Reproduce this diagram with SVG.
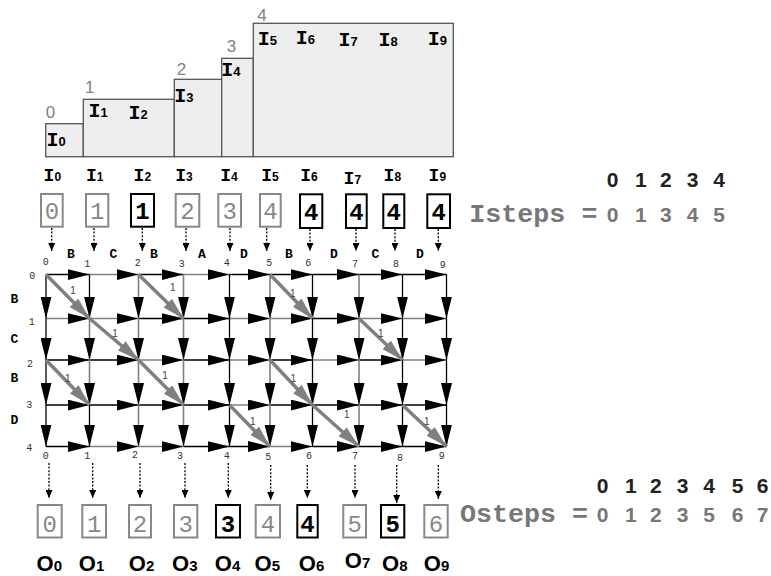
<svg xmlns="http://www.w3.org/2000/svg" width="771" height="576" viewBox="0 0 771 576">
<style>
.bg{fill:#fff}
.step{fill:#eeeeee;stroke:#555;stroke-width:1.3}
.stepn{font-family:"Liberation Sans",Arial,sans-serif;font-size:17px;fill:#808080}
.il{font-family:"Liberation Mono","Courier New",monospace;font-weight:bold;fill:#000}
.sub{font-family:"Liberation Sans",Arial,sans-serif;font-weight:bold}
.ol{font-family:"Liberation Sans",Arial,sans-serif;font-weight:bold;font-size:22px;fill:#000}
.bxg{fill:#fff;stroke:#888;stroke-width:2}
.bxk{fill:#fff;stroke:#000;stroke-width:2}
.dg{font-family:"Liberation Mono","Courier New",monospace;font-size:24px;fill:#888;text-anchor:middle}
.dk{font-family:"Liberation Mono","Courier New",monospace;font-weight:bold;font-size:24px;fill:#000;text-anchor:middle}
.dot{stroke:#000;stroke-width:1.3;stroke-dasharray:2,1.6;fill:none;marker-end:url(#sa)}
.k{stroke:#000;stroke-width:1.3;marker-end:url(#ah)}
.g{stroke:#808080;stroke-width:1.6;marker-end:url(#ah)}
.dia{stroke:#808080;stroke-width:3.5;marker-end:url(#ag)}
.num{font-family:"Liberation Mono","Courier New",monospace;font-size:10px;fill:#333;text-anchor:middle}
.one{font-family:"Liberation Sans",Arial,sans-serif;font-size:10px;fill:#444;text-anchor:middle}
.let{font-family:"Liberation Mono","Courier New",monospace;font-weight:bold;font-size:13px;fill:#000;text-anchor:middle}
.hd{font-family:"Liberation Sans",Arial,sans-serif;font-weight:bold;font-size:21px;fill:#222}
.hv{font-family:"Liberation Sans",Arial,sans-serif;font-weight:bold;font-size:21px;fill:#777}
.mono{font-family:"Liberation Mono","Courier New",monospace;font-weight:bold;font-size:26.7px;fill:#777}
</style>
<defs>
<marker id="ah" markerUnits="userSpaceOnUse" markerWidth="22" markerHeight="11" refX="22" refY="5.5" orient="auto"><path d="M0,0 L22,5.5 L0,11 Z" fill="#000"/></marker>
<marker id="ag" markerUnits="userSpaceOnUse" markerWidth="22" markerHeight="12" refX="22" refY="6" orient="auto"><path d="M0,0 L22,6 L0,12 Z" fill="#808080"/></marker>
<marker id="sa" markerUnits="userSpaceOnUse" markerWidth="8" markerHeight="7" refX="8" refY="3.5" orient="auto"><path d="M0,0 L8,3.5 L0,7 Z" fill="#000"/></marker>
</defs>
<rect class="bg" x="0" y="0" width="771" height="576"/>

<g id="staircase">
<rect class="step" x="45.7" y="123.7" width="37.6" height="33"/>
<rect class="step" x="83.3" y="99.3" width="91" height="57.4"/>
<rect class="step" x="174.3" y="79.3" width="47.4" height="77.4"/>
<rect class="step" x="221.7" y="58.3" width="31.6" height="98.4"/>
<rect class="step" x="253.3" y="23.3" width="200" height="133.4"/>
<text class="stepn" x="45.7" y="118.3">0</text>
<text class="stepn" x="85" y="93.3">1</text>
<text class="stepn" x="176.7" y="75">2</text>
<text class="stepn" x="226.7" y="51.7">3</text>
<text class="stepn" x="257.3" y="20.7">4</text>
<text class="il" font-size="20" x="46.5" y="146">I<tspan class="sub" font-size="13">0</tspan></text>
<text class="il" font-size="20" x="88.5" y="117.3">I<tspan class="sub" font-size="13">1</tspan></text>
<text class="il" font-size="20" x="128.5" y="119">I<tspan class="sub" font-size="13">2</tspan></text>
<text class="il" font-size="20" x="174.2" y="101.7">I<tspan class="sub" font-size="13">3</tspan></text>
<text class="il" font-size="20" x="221.2" y="76">I<tspan class="sub" font-size="13">4</tspan></text>
<text class="il" font-size="20" x="257.8" y="45">I<tspan class="sub" font-size="13">5</tspan></text>
<text class="il" font-size="20" x="295.8" y="44">I<tspan class="sub" font-size="13">6</tspan></text>
<text class="il" font-size="20" x="338.5" y="46">I<tspan class="sub" font-size="13">7</tspan></text>
<text class="il" font-size="20" x="378.5" y="46">I<tspan class="sub" font-size="13">8</tspan></text>
<text class="il" font-size="20" x="427.8" y="45">I<tspan class="sub" font-size="13">9</tspan></text>
</g>

<g id="inputs">
<text class="il" font-size="18" x="43.6" y="181">I<tspan class="sub" font-size="12">0</tspan></text>
<text class="il" font-size="18" x="85.9" y="181">I<tspan class="sub" font-size="12">1</tspan></text>
<text class="il" font-size="18" x="133.6" y="181">I<tspan class="sub" font-size="12">2</tspan></text>
<text class="il" font-size="18" x="175.3" y="181">I<tspan class="sub" font-size="12">3</tspan></text>
<text class="il" font-size="18" x="220.3" y="181">I<tspan class="sub" font-size="12">4</tspan></text>
<text class="il" font-size="18" x="261.3" y="181">I<tspan class="sub" font-size="12">5</tspan></text>
<text class="il" font-size="18" x="300.3" y="181">I<tspan class="sub" font-size="12">6</tspan></text>
<text class="il" font-size="18" x="343.6" y="183.5">I<tspan class="sub" font-size="12">7</tspan></text>
<text class="il" font-size="18" x="383.6" y="181">I<tspan class="sub" font-size="12">8</tspan></text>
<text class="il" font-size="18" x="428.6" y="181">I<tspan class="sub" font-size="12">9</tspan></text>
</g>

<g id="ibox0"><rect class="bxg" x="41" y="194" width="21.7" height="32.7"/><text class="dg" x="51.9" y="219.3">0</text></g>
<g id="ibox1"><rect class="bxg" x="86" y="194" width="22.3" height="32.7"/><text class="dg" x="97.2" y="219.3">1</text></g>
<g id="ibox2"><rect class="bxk" x="131" y="194" width="23" height="32.7"/><text class="dk" x="142.5" y="219.3">1</text></g>
<g id="ibox3"><rect class="bxg" x="175.7" y="194" width="23.6" height="32.7"/><text class="dg" x="187.5" y="219.3">2</text></g>
<g id="ibox4"><rect class="bxg" x="218.3" y="194" width="22.7" height="32.7"/><text class="dg" x="229.7" y="219.3">3</text></g>
<g id="ibox5"><rect class="bxg" x="260" y="194" width="20.7" height="32.7"/><text class="dg" x="270.4" y="219.3">4</text></g>
<g id="ibox6"><rect class="bxk" x="300" y="194.3" width="22.3" height="33.7"/><text class="dk" x="311.2" y="220">4</text></g>
<g id="ibox7"><rect class="bxk" x="346" y="194.3" width="20.7" height="33.7"/><text class="dk" x="356.4" y="220">4</text></g>
<g id="ibox8"><rect class="bxk" x="383.3" y="194.3" width="21" height="33.7"/><text class="dk" x="393.8" y="220">4</text></g>
<g id="ibox9"><rect class="bxk" x="427.3" y="194.3" width="22.7" height="33.7"/><text class="dk" x="438.7" y="220">4</text></g>

<g id="right-text">
<text class="hd" x="606.7 635 660 686.7 713.3" y="186.7">01234</text>
<text class="mono" x="469.3" y="221.7">Isteps =</text>
<text class="hv" x="606.7 635 660 686.7 713.3" y="221.7">01345</text>
<text class="hd" x="596.7 625 650 676.7 703.3 731.7 756.7" y="493.3">0123456</text>
<text class="mono" x="460" y="521.7">Osteps =</text>
<text class="hv" x="596.7 625 650 676.7 703.3 731.7 756.7" y="521.7">0123567</text>
</g>

<g id="grid-labels">
<text class="num" x="45.7" y="265">0</text>
<text class="num" x="87.3" y="267">1</text>
<text class="num" x="137.7" y="266">2</text>
<text class="num" x="181.7" y="267.3">3</text>
<text class="num" x="226.7" y="266">4</text>
<text class="num" x="269.3" y="266">5</text>
<text class="num" x="308.3" y="266">6</text>
<text class="num" x="355" y="267.3">7</text>
<text class="num" x="396" y="266.7">8</text>
<text class="num" x="442.7" y="268.3">9</text>
<text class="num" x="45.7" y="458.5">0</text>
<text class="num" x="87.3" y="459">1</text>
<text class="num" x="135" y="458">2</text>
<text class="num" x="180" y="459">3</text>
<text class="num" x="226.7" y="458.5">4</text>
<text class="num" x="268.3" y="460">5</text>
<text class="num" x="309" y="458.5">6</text>
<text class="num" x="355" y="458.5">7</text>
<text class="num" x="400" y="460.5">8</text>
<text class="num" x="441.7" y="459">9</text>
<text class="num" x="32.3" y="279">0</text>
<text class="num" x="31.7" y="325">1</text>
<text class="num" x="30" y="366.7">2</text>
<text class="num" x="29.3" y="408.3">3</text>
<text class="num" x="29.3" y="450.5">4</text>
<text class="let" x="14.5" y="303">B</text>
<text class="let" x="14.5" y="343.3">C</text>
<text class="let" x="14.5" y="382.3">B</text>
<text class="let" x="14.5" y="424">D</text>
<text class="let" x="70.8" y="258">B</text>
<text class="let" x="113.5" y="258">C</text>
<text class="let" x="154" y="258">B</text>
<text class="let" x="202" y="258">A</text>
<text class="let" x="244" y="258">D</text>
<text class="let" x="289" y="258">B</text>
<text class="let" x="334" y="258">D</text>
<text class="let" x="375.5" y="258">C</text>
<text class="let" x="420" y="258">D</text>
</g>

<g id="connectors">
<line class="dot" x1="51.7" y1="228" x2="51.7" y2="251"/>
<line class="dot" x1="94" y1="228" x2="94" y2="251"/>
<line class="dot" x1="142.3" y1="228" x2="142.3" y2="251"/>
<line class="dot" x1="186" y1="228" x2="186" y2="251"/>
<line class="dot" x1="230" y1="228" x2="230" y2="251"/>
<line class="dot" x1="266.7" y1="228" x2="266.7" y2="251"/>
<line class="dot" x1="310" y1="229" x2="310" y2="251"/>
<line class="dot" x1="356" y1="229" x2="356" y2="251"/>
<line class="dot" x1="395" y1="229" x2="395" y2="251"/>
<line class="dot" x1="438.3" y1="229" x2="438.3" y2="251"/>

<line class="dot" x1="49" y1="463" x2="49" y2="498"/>
<line class="dot" x1="92.7" y1="463" x2="92.7" y2="498"/>
<line class="dot" x1="140" y1="463" x2="140" y2="498"/>
<line class="dot" x1="185" y1="463" x2="185" y2="498"/>
<line class="dot" x1="228.3" y1="463" x2="228.3" y2="498"/>
<line class="dot" x1="270.7" y1="465" x2="270.7" y2="500"/>
<line class="dot" x1="307.3" y1="465" x2="307.3" y2="498"/>
<line class="dot" x1="355" y1="465" x2="355" y2="498"/>
<line class="dot" x1="396.7" y1="465" x2="396.7" y2="503"/>
<line class="dot" x1="438.3" y1="465" x2="438.3" y2="499"/>

<!-- row 0 -->
<line class="k" x1="46" y1="274.5" x2="89.5" y2="274.5"/>
<line class="g" x1="89.5" y1="274.5" x2="138.5" y2="274.5"/>
<line class="k" x1="138.5" y1="274.5" x2="183.5" y2="274.5"/>
<line class="g" x1="183.5" y1="274.5" x2="229.5" y2="274.5"/>
<line class="k" x1="229.5" y1="274.5" x2="270" y2="274.5"/>
<line class="k" x1="270" y1="274.5" x2="312.5" y2="274.5"/>
<line class="k" x1="312.5" y1="274.5" x2="359" y2="274.5"/>
<line class="k" x1="359" y1="274.5" x2="402.5" y2="274.5"/>
<line class="k" x1="402.5" y1="274.5" x2="446.5" y2="274.5"/>
<!-- row 1 -->
<line class="g" x1="46" y1="318.5" x2="89.5" y2="318.5"/>
<line class="g" x1="89.5" y1="318.5" x2="138.5" y2="318.5"/>
<line class="k" x1="138.5" y1="318.5" x2="183.5" y2="318.5"/>
<line class="k" x1="183.5" y1="318.5" x2="229.5" y2="318.5"/>
<line class="g" x1="229.5" y1="318.5" x2="270" y2="318.5"/>
<line class="g" x1="270" y1="318.5" x2="312.5" y2="318.5"/>
<line class="k" x1="312.5" y1="318.5" x2="359" y2="318.5"/>
<line class="g" x1="359" y1="318.5" x2="402.5" y2="318.5"/>
<line class="g" x1="402.5" y1="318.5" x2="446.5" y2="318.5"/>
<!-- row 2 -->
<line class="k" x1="46" y1="360" x2="89.5" y2="360"/>
<line class="k" x1="89.5" y1="360" x2="138.5" y2="360"/>
<line class="g" x1="138.5" y1="360" x2="183.5" y2="360"/>
<line class="k" x1="183.5" y1="360" x2="229.5" y2="360"/>
<line class="g" x1="229.5" y1="360" x2="270" y2="360"/>
<line class="k" x1="270" y1="360" x2="312.5" y2="360"/>
<line class="g" x1="312.5" y1="360" x2="359" y2="360"/>
<line class="k" x1="359" y1="360" x2="402.5" y2="360"/>
<line class="g" x1="402.5" y1="360" x2="446.5" y2="360"/>
<!-- row 3 -->
<line class="k" x1="46" y1="405" x2="89.5" y2="405"/>
<line class="k" x1="89.5" y1="405" x2="138.5" y2="405"/>
<line class="k" x1="138.5" y1="405" x2="183.5" y2="405"/>
<line class="k" x1="183.5" y1="405" x2="229.5" y2="405"/>
<line class="g" x1="229.5" y1="405" x2="270" y2="405"/>
<line class="k" x1="270" y1="405" x2="312.5" y2="405"/>
<line class="k" x1="312.5" y1="405" x2="359" y2="405"/>
<line class="k" x1="359" y1="405" x2="402.5" y2="405"/>
<line class="k" x1="402.5" y1="405" x2="446.5" y2="405"/>
<!-- row 4 -->
<line class="k" x1="46" y1="446.5" x2="89.5" y2="446.5"/>
<line class="g" x1="89.5" y1="446.5" x2="138.5" y2="446.5"/>
<line class="g" x1="138.5" y1="446.5" x2="183.5" y2="446.5"/>
<line class="k" x1="183.5" y1="446.5" x2="229.5" y2="446.5"/>
<line class="k" x1="229.5" y1="446.5" x2="270" y2="446.5"/>
<line class="g" x1="270" y1="446.5" x2="312.5" y2="446.5"/>
<line class="k" x1="312.5" y1="446.5" x2="359" y2="446.5"/>
<line class="k" x1="359" y1="446.5" x2="402.5" y2="446.5"/>
<line class="k" x1="402.5" y1="446.5" x2="446.5" y2="446.5"/>
<!-- verticals -->
<line class="k" x1="46" y1="274.5" x2="46" y2="318.5"/>
<line class="k" x1="46" y1="318.5" x2="46" y2="360"/>
<line class="k" x1="46" y1="360" x2="46" y2="405"/>
<line class="k" x1="46" y1="405" x2="46" y2="446.5"/>
<line class="k" x1="89.5" y1="274.5" x2="89.5" y2="318.5"/>
<line class="g" x1="89.5" y1="318.5" x2="89.5" y2="360"/>
<line class="g" x1="89.5" y1="360" x2="89.5" y2="405"/>
<line class="k" x1="89.5" y1="405" x2="89.5" y2="446.5"/>
<line class="g" x1="138.5" y1="274.5" x2="138.5" y2="318.5"/>
<line class="g" x1="138.5" y1="318.5" x2="138.5" y2="360"/>
<line class="g" x1="138.5" y1="360" x2="138.5" y2="405"/>
<line class="g" x1="138.5" y1="405" x2="138.5" y2="446.5"/>
<line class="g" x1="183.5" y1="274.5" x2="183.5" y2="318.5"/>
<line class="g" x1="183.5" y1="318.5" x2="183.5" y2="360"/>
<line class="g" x1="183.5" y1="360" x2="183.5" y2="405"/>
<line class="g" x1="183.5" y1="405" x2="183.5" y2="446.5"/>
<line class="k" x1="229.5" y1="274.5" x2="229.5" y2="318.5"/>
<line class="k" x1="229.5" y1="318.5" x2="229.5" y2="360"/>
<line class="k" x1="229.5" y1="360" x2="229.5" y2="405"/>
<line class="k" x1="229.5" y1="405" x2="229.5" y2="446.5"/>
<line class="g" x1="270" y1="274.5" x2="270" y2="318.5"/>
<line class="g" x1="270" y1="318.5" x2="270" y2="360"/>
<line class="g" x1="270" y1="360" x2="270" y2="405"/>
<line class="g" x1="270" y1="405" x2="270" y2="446.5"/>
<line class="k" x1="312.5" y1="274.5" x2="312.5" y2="318.5"/>
<line class="k" x1="312.5" y1="318.5" x2="312.5" y2="360"/>
<line class="k" x1="312.5" y1="360" x2="312.5" y2="405"/>
<line class="k" x1="312.5" y1="405" x2="312.5" y2="446.5"/>
<line class="g" x1="359" y1="274.5" x2="359" y2="318.5"/>
<line class="g" x1="359" y1="318.5" x2="359" y2="360"/>
<line class="g" x1="359" y1="360" x2="359" y2="405"/>
<line class="g" x1="359" y1="405" x2="359" y2="446.5"/>
<line class="k" x1="402.5" y1="274.5" x2="402.5" y2="318.5"/>
<line class="k" x1="402.5" y1="318.5" x2="402.5" y2="360"/>
<line class="k" x1="402.5" y1="360" x2="402.5" y2="405"/>
<line class="k" x1="402.5" y1="405" x2="402.5" y2="446.5"/>
<line class="k" x1="446.5" y1="274.5" x2="446.5" y2="318.5"/>
<line class="k" x1="446.5" y1="318.5" x2="446.5" y2="360"/>
<line class="k" x1="446.5" y1="360" x2="446.5" y2="405"/>
<line class="k" x1="446.5" y1="405" x2="446.5" y2="446.5"/>
<!-- diagonals -->
<line class="dia" x1="46" y1="274.5" x2="89.5" y2="318.5"/>
<line class="dia" x1="138.5" y1="274.5" x2="183.5" y2="318.5"/>
<line class="dia" x1="270" y1="274.5" x2="312.5" y2="318.5"/>
<line class="dia" x1="89.5" y1="318.5" x2="138.5" y2="360"/>
<line class="dia" x1="359" y1="318.5" x2="402.5" y2="360"/>
<line class="dia" x1="46" y1="360" x2="89.5" y2="405"/>
<line class="dia" x1="138.5" y1="360" x2="183.5" y2="405"/>
<line class="dia" x1="270" y1="360" x2="312.5" y2="405"/>
<line class="dia" x1="229.5" y1="405" x2="270" y2="446.5"/>
<line class="dia" x1="312.5" y1="405" x2="359" y2="446.5"/>
<line class="dia" x1="402.5" y1="405" x2="446.5" y2="446.5"/>
<text class="one" x="73" y="293.5">1</text>
<text class="one" x="115" y="337">1</text>
<text class="one" x="172.7" y="290.5">1</text>
<text class="one" x="292.7" y="297">1</text>
<text class="one" x="380.7" y="337">1</text>
<text class="one" x="67.7" y="381.8">1</text>
<text class="one" x="165" y="379.2">1</text>
<text class="one" x="293.3" y="381.8">1</text>
<text class="one" x="346.7" y="417.8">1</text>
<text class="one" x="252.7" y="425.2">1</text>
<text class="one" x="426.7" y="425.2">1</text>
</g>

<g id="obox0"><rect class="bxg" x="37.7" y="505" width="24" height="32.5"/><text class="dg" x="49.7" y="531.7">0</text></g>
<g id="obox1"><rect class="bxg" x="82.3" y="505" width="23.7" height="32.5"/><text class="dg" x="94.2" y="531.7">1</text></g>
<g id="obox2"><rect class="bxg" x="129" y="505" width="22" height="32.5"/><text class="dg" x="140" y="531.7">2</text></g>
<g id="obox3"><rect class="bxg" x="174" y="505" width="23.3" height="32.5"/><text class="dg" x="185.7" y="531.7">3</text></g>
<g id="obox4"><rect class="bxk" x="216" y="505" width="24" height="32.5"/><text class="dk" x="228" y="531.7">3</text></g>
<g id="obox5"><rect class="bxg" x="255.7" y="505" width="24.3" height="32.5"/><text class="dg" x="267.9" y="531.7">4</text></g>
<g id="obox6"><rect class="bxk" x="297.3" y="505" width="20.4" height="32.5"/><text class="dk" x="307.5" y="531.7">4</text></g>
<g id="obox7"><rect class="bxg" x="343.3" y="505" width="22.7" height="32.5"/><text class="dg" x="354.7" y="531.7">5</text></g>
<g id="obox8"><rect class="bxk" x="381" y="505" width="23.3" height="32.5"/><text class="dk" x="392.7" y="531.7">5</text></g>
<g id="obox9"><rect class="bxg" x="424.3" y="505" width="23.4" height="32.5"/><text class="dg" x="436" y="531.7">6</text></g>

<g id="outputs">
<text class="ol" x="36.5" y="571">O<tspan font-size="15">0</tspan></text>
<text class="ol" x="78.8" y="571">O<tspan font-size="15">1</tspan></text>
<text class="ol" x="128.8" y="571">O<tspan font-size="15">2</tspan></text>
<text class="ol" x="172.1" y="571">O<tspan font-size="15">3</tspan></text>
<text class="ol" x="214.8" y="571">O<tspan font-size="15">4</tspan></text>
<text class="ol" x="254.5" y="571">O<tspan font-size="15">5</tspan></text>
<text class="ol" x="298.8" y="571">O<tspan font-size="15">6</tspan></text>
<text class="ol" x="344.8" y="568">O<tspan font-size="15">7</tspan></text>
<text class="ol" x="382.1" y="571">O<tspan font-size="15">8</tspan></text>
<text class="ol" x="423.8" y="571">O<tspan font-size="15">9</tspan></text>
</g>
</svg>
